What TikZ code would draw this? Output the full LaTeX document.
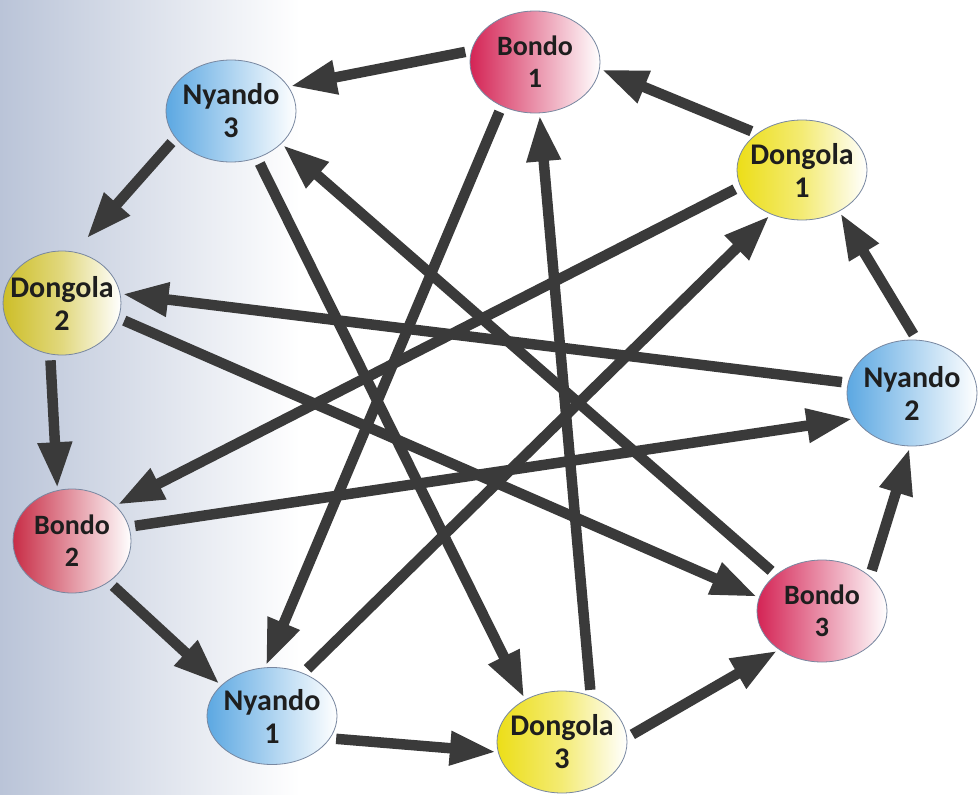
\documentclass[tikz,border=0pt]{standalone}
\usepackage{fontspec}
\setmainfont{Carlito}
\usetikzlibrary{shapes.geometric,arrows.meta}
\definecolor{bondoc}{RGB}{212,36,85}
\definecolor{bondoctwo}{RGB}{200,45,70}
\definecolor{nyandoc}{RGB}{92,168,226}
\definecolor{dongolac}{RGB}{236,222,24}
\definecolor{dongolactwo}{RGB}{205,190,40}
\definecolor{textc}{RGB}{30,30,30}
\definecolor{edgec}{RGB}{120,135,160}
\definecolor{arrowc}{RGB}{58,58,58}
\definecolor{bgblue}{RGB}{186,196,216}
\begin{document}
\begin{tikzpicture}[x=1pt,y=-1pt,
  city/.style={ellipse, draw=edgec, line width=0.8pt, inner xsep=-10pt, inner ysep=0pt,
    minimum width=130pt, minimum height=102pt, align=center,
    font=\fontsize{30}{33}\selectfont\bfseries, text=textc},
  bondo/.style={city, font=\fontsize{28}{32}\selectfont\bfseries,
    left color=bondoc, right color=white, middle color=bondoc!50!white},
  nyando/.style={city, left color=nyandoc, right color=white, middle color=nyandoc!50!white},
  dongola/.style={city, left color=dongolac, right color=white, middle color=dongolac!60!white},
  link/.style={draw=arrowc, line width=10.5pt, -{Triangle[width=32pt,length=46pt]},
    shorten <=6pt, shorten >=2pt}
]
\useasboundingbox (0,0) rectangle (978,795);
\fill[white] (0,0) rectangle (978,795);
\fill[left color=bgblue, right color=white] (0,0) rectangle (300,795);

\node[bondo]   (b1) at (535,62)  {Bondo\\1};
\node[nyando]  (n3) at (231,111) {Nyando\\3};
\node[dongola, minimum width=116pt, minimum height=104pt,
  left color=dongolactwo, right color=white, middle color=dongolactwo!60!white] (d2) at (62,303) {Dongola\\2};
\node[bondo, minimum width=118pt, minimum height=104pt,
  left color=bondoctwo, right color=white, middle color=bondoctwo!50!white]   (b2) at (72,541) {Bondo\\2};
\node[nyando, minimum height=97pt]  (n1) at (272,716) {Nyando\\1};
\node[dongola] (d3) at (562,742) {Dongola\\3};
\node[bondo]   (b3) at (822,611) {Bondo\\3};
\node[nyando, minimum height=106pt]  (n2) at (912,393) {Nyando\\2};
\node[dongola, minimum height=100pt] (d1) at (802,170) {Dongola\\1};

% ring
\draw[link] (b1.170) -- (n3.23);
\draw[link, shorten >=18pt] (n3.-154) -- (d2.76);
\draw[link] (d2.-103) -- (b2.106);
\draw[link] (b2.-48) -- (n1.149);
\draw[link] (n1.-21) -- (d3.-171);
\draw[link] (d3.4) -- (b3.-138);
\draw[link] (b3.36) -- (n2.-92);
\draw[link] (n2.85) -- (d1.-48);
\draw[link] (d1.141) -- (b1.-6);
% star
\draw[link] (b1.-127) -- (n1.98);
\draw[link] (d3.58) -- (b1.-85);
\draw[link] (n3.-61) -- (d3.131);
\draw[link] (b3.142) -- (n3.-33);
\draw[link] (d1.-165) -- (b2.39);
\draw[link] (n1.54) -- (d1.-125);
\draw[link] (n2.171) -- (d2.9);
\draw[link] (d2.-15) -- (b3.168);
\draw[link] (b2.14) -- (n2.-156);
\end{tikzpicture}
\end{document}
